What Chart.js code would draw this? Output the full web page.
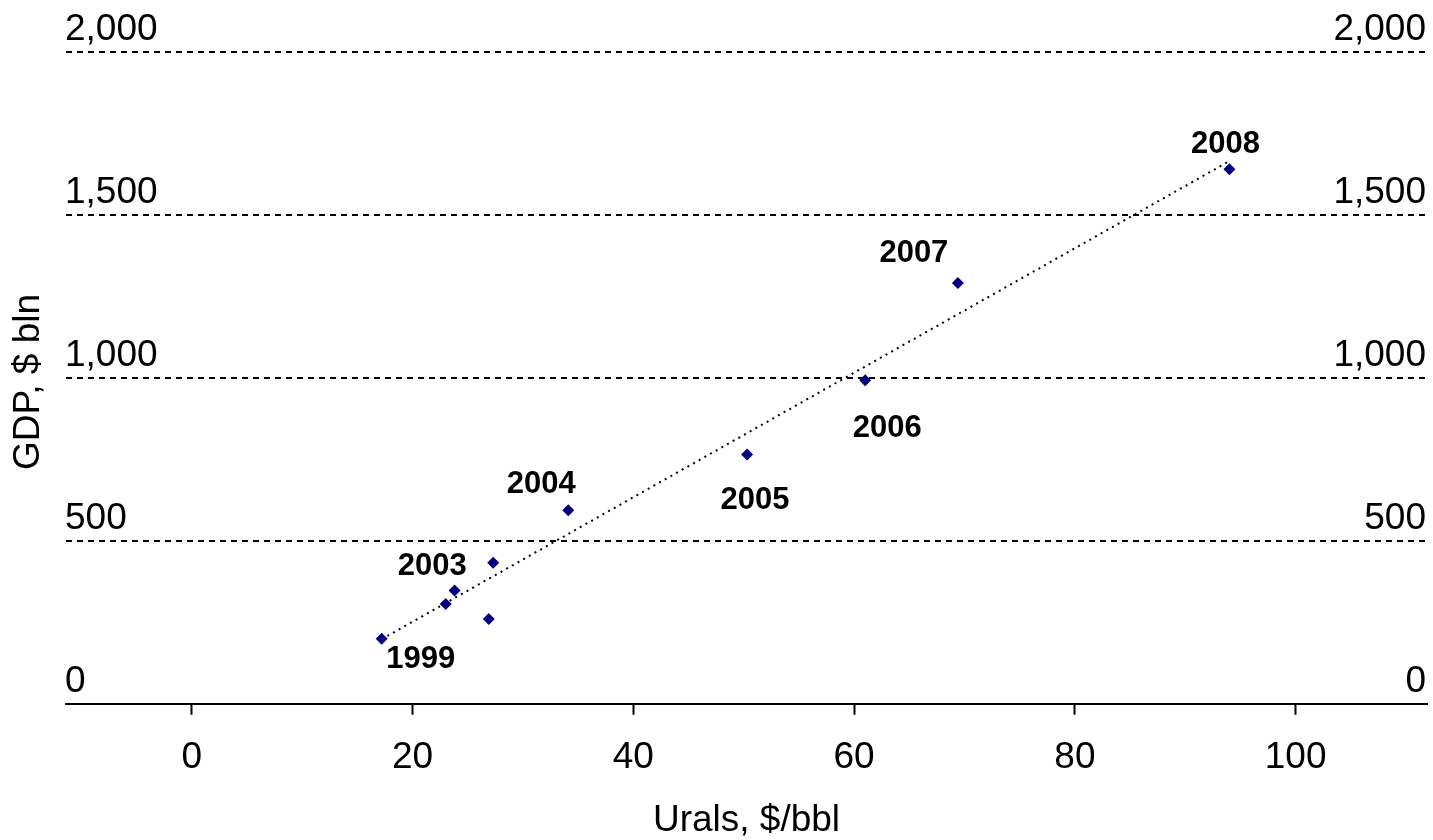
<!DOCTYPE html>
<html>
<head>
<meta charset="utf-8">
<script src="https://cdn.jsdelivr.net/npm/chart.js@4.4.1/dist/chart.umd.min.js"></script>
<style>
  html, body { margin: 0; padding: 0; background: #fff; }
  #wrap { width: 1433px; height: 840px; position: relative; }
</style>
</head>
<body>
<div id="wrap"><canvas id="chart"></canvas></div>
<script>
// --- DATA ---
const years = [1999, 2000, 2001, 2002, 2003, 2004, 2005, 2006, 2007, 2008];
const urals = [17.2, 26.9, 23.0, 23.8, 27.3, 34.1, 50.3, 61.0, 69.4, 94.0];
const gdp = [199, 260, 306, 347, 432, 593, 764, 992, 1290, 1639];
const labelledYears = [1999, 2003, 2004, 2005, 2006, 2007, 2008];
const trendX = [17.2, 94.0];
const trendY = [198, 1664];
const xTicks = [0, 20, 40, 60, 80, 100];
const yTicks = [0, 500, 1000, 1500, 2000];

// --- LAYOUT (label placement relative to its point, px) ---
const labelOffsets = {
  1999: [39, 21], 2003: [-61, 4], 2004: [-27, -26], 2005: [8, 46],
  2006: [22, 48], 2007: [-44, -30], 2008: [-4, -25]
};
const FONT = "'Liberation Sans', Arial, sans-serif";

const points = urals.map((x, i) => ({ x, y: gdp[i] }));
const trend = trendX.map((x, i) => ({ x, y: trendY[i] }));

// y labels (both sides), axis title and year labels
const textPlugin = {
  id: "texts",
  afterDatasetsDraw(chart) {
    const { ctx, chartArea, scales } = chart;
    const yScale = scales.y;
    ctx.save();
    ctx.fillStyle = "#000";
    ctx.font = `37px ${FONT}`;
    ctx.textBaseline = "alphabetic";
    yTicks.forEach((v) => {
      const py = yScale.getPixelForValue(v) - 12;
      const txt = v.toLocaleString("en-US");
      ctx.textAlign = "left";
      ctx.fillText(txt, chartArea.left - 1, py);
      ctx.textAlign = "right";
      ctx.fillText(txt, chartArea.right - 1, py);
    });

    ctx.save();
    ctx.translate(29, 382);
    ctx.rotate(-Math.PI / 2);
    ctx.textAlign = "center";
    ctx.textBaseline = "middle";
    ctx.fillText("GDP, $ bln", 0, 0);
    ctx.restore();

    const meta = chart.getDatasetMeta(1);
    ctx.font = `bold 31px ${FONT}`;
    ctx.textAlign = "center";
    ctx.textBaseline = "middle";
    labelledYears.forEach((yr) => {
      const idx = years.indexOf(yr);
      const el = meta.data[idx];
      const [dx, dy] = labelOffsets[yr];
      ctx.fillText(String(yr), el.x + dx, el.y + dy);
    });
    ctx.restore();
  }
};

new Chart(document.getElementById("chart"), {
  type: "scatter",
  data: {
    datasets: [
      {
        type: "line",
        data: trend,
        borderColor: "#000",
        borderWidth: 2,
        borderDash: [2, 4.5],
        pointRadius: 0,
        fill: false,
        order: 2
      },
      {
        data: points,
        pointStyle: "rectRot",
        pointRadius: 6,
        pointHoverRadius: 6,
        backgroundColor: "#000080",
        borderColor: "#000080",
        borderWidth: 0,
        order: 1
      }
    ]
  },
  options: {
    responsive: true,
    maintainAspectRatio: false,
    animation: false,
    layout: { padding: { top: 51.5, left: 66, right: 3, bottom: 0 } },
    plugins: { legend: { display: false }, tooltip: { enabled: false } },
    scales: {
      x: {
        type: "linear",
        min: -11.4,
        max: 111.9,
        afterBuildTicks: (axis) => { axis.ticks = xTicks.map((v) => ({ value: v })); },
        ticks: { color: "#000", font: { family: FONT, size: 37 }, padding: 21 },
        grid: { drawOnChartArea: false, drawTicks: true, tickLength: 11, tickColor: "#000", tickWidth: 2 },
        border: { display: true, color: "#000", width: 2 },
        title: {
          display: true,
          text: "Urals, $/bbl",
          color: "#000",
          font: { family: FONT, size: 37, lineHeight: 1.05 },
          padding: { top: 0, bottom: 0 }
        }
      },
      y: {
        min: 0,
        max: 2000,
        afterBuildTicks: (axis) => { axis.ticks = yTicks.map((v) => ({ value: v })); },
        ticks: { display: false },
        grid: {
          color: (c) => (c.tick && c.tick.value === 0 ? "rgba(0,0,0,0)" : "#000"),
          lineWidth: 2,
          drawTicks: false
        },
        border: { display: false, dash: [6, 5] }
      }
    }
  },
  plugins: [textPlugin]
});
</script>
</body>
</html>
